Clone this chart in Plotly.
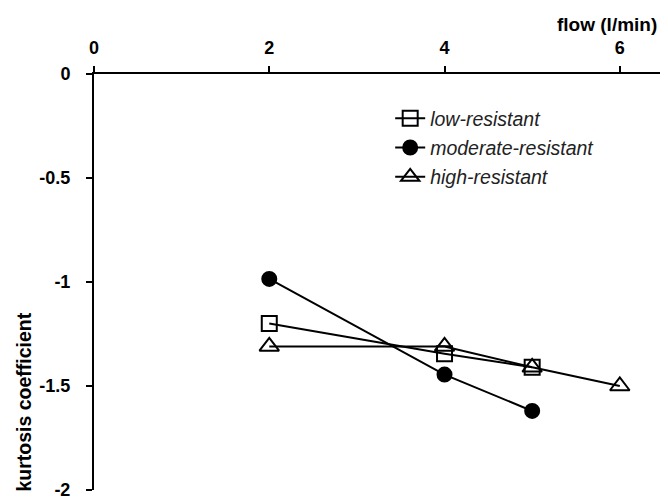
import plotly.graph_objects as go

flow_low = [2, 4, 5]
kurt_low = [-1.20, -1.345, -1.41]
flow_mod = [2, 4, 5]
kurt_mod = [-0.985, -1.445, -1.62]
flow_high = [2, 4, 5, 6]
kurt_high = [-1.31, -1.31, -1.41, -1.50]

names = ["low-resistant", "moderate-resistant", "high-resistant"]
symbols = ["square-open", "circle", "triangle-up-open"]
sizes = [15, 14, 17]

FONT = "Liberation Sans, Arial, sans-serif"

fig = go.Figure()
for xs, ys, name, sym, sz in [(flow_low, kurt_low, names[0], symbols[0], sizes[0]),
                              (flow_mod, kurt_mod, names[1], symbols[1], sizes[1]),
                              (flow_high, kurt_high, names[2], symbols[2], sizes[2])]:
    fig.add_trace(go.Scatter(
        x=xs, y=ys, name=name, legendgroup=name, mode="lines+markers",
        line=dict(color="black", width=2),
        marker=dict(symbol=sym, size=sz, color="black",
                    line=dict(color="black", width=2)),
    ))

fig.update_layout(
    width=660, height=494,
    margin=dict(l=86, r=0, t=66, b=12),
    paper_bgcolor="white", plot_bgcolor="white",
    showlegend=True,
    legend=dict(x=0.516, y=0.94, xanchor="left", yanchor="top",
                font=dict(family=FONT, size=19.5, style="italic", color="#222"),
                tracegroupgap=1, bgcolor="rgba(0,0,0,0)", itemwidth=30),
    xaxis=dict(range=[0, 6.55], side="top", tickvals=[0, 2, 4, 6],
               showline=True, linecolor="black", linewidth=2,
               ticks="outside", ticklen=6, tickwidth=2, tickcolor="black",
               showgrid=False, zeroline=False, ticklabelstandoff=5,
               tickfont=dict(family=FONT, size=18, weight="bold", color="black")),
    yaxis=dict(range=[-2, 0], tickvals=[0, -0.5, -1, -1.5, -2],
               ticktext=["0", "-0.5", "-1", "-1.5", "-2"],
               showline=True, linecolor="black", linewidth=2,
               ticks="outside", ticklen=6, tickwidth=2, tickcolor="black",
               showgrid=False, zeroline=False, ticklabelstandoff=12,
               tickfont=dict(family=FONT, size=18, weight="bold", color="black")),
    annotations=[
        dict(text="flow (l/min)", xref="paper", yref="paper", x=0.985, y=1.12,
             xanchor="right", yanchor="middle", showarrow=False,
             font=dict(family=FONT, size=19, weight="bold", color="black")),
        dict(text="kurtosis coefficient", xref="paper", yref="y", x=-0.122, y=-1.575,
             xanchor="center", yanchor="middle", textangle=-90, showarrow=False,
             font=dict(family=FONT, size=19.5, weight="bold", color="black")),
    ],
)

fig.write_html("out.html")
